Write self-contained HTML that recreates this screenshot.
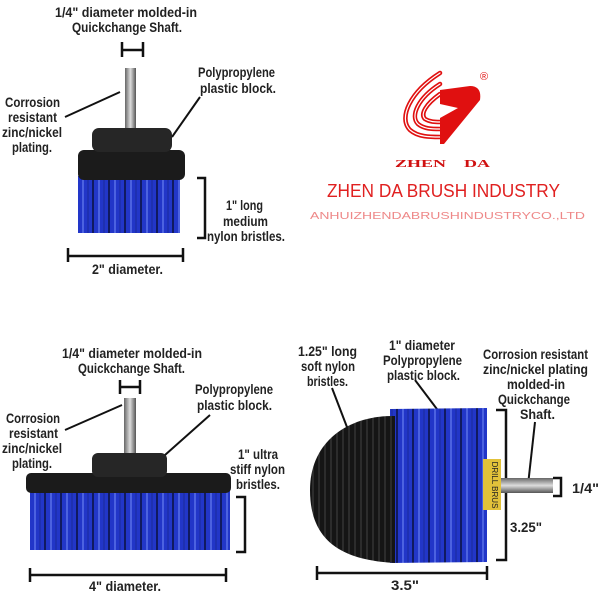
<!DOCTYPE html>
<html><head><meta charset="utf-8"><style>
html,body{margin:0;padding:0;background:#fff;}
svg{display:block}
.t{font-family:"Liberation Sans",sans-serif;font-size:14px;font-weight:bold;fill:#222;}
</style></head><body>
<svg width="600" height="600" viewBox="0 0 600 600" xmlns="http://www.w3.org/2000/svg">
<defs>
<linearGradient id="shaft" x1="0" x2="1"><stop offset="0" stop-color="#666"/><stop offset=".5" stop-color="#ddd"/><stop offset="1" stop-color="#555"/></linearGradient>
<linearGradient id="shaftH" x1="0" y1="0" x2="0" y2="1"><stop offset="0" stop-color="#666"/><stop offset=".5" stop-color="#ddd"/><stop offset="1" stop-color="#555"/></linearGradient>
<pattern id="blue" width="16" height="10" patternUnits="userSpaceOnUse"><rect width="16" height="10" fill="#2236c8"/><line x1="3" y1="0" x2="3" y2="10" stroke="#5a70e8" stroke-width="1.5"/><line x1="8" y1="0" x2="8" y2="10" stroke="#1a2a9a" stroke-width="1"/><line x1="13" y1="0" x2="13" y2="10" stroke="#101a60" stroke-width="2"/></pattern>
<pattern id="black" width="6" height="10" patternUnits="userSpaceOnUse"><rect width="6" height="10" fill="#151515"/><line x1="1" y1="0" x2="1" y2="10" stroke="#444" stroke-width="1"/></pattern>
</defs>
<g fill="none" stroke="#111" stroke-width="2.5">
<path d="M122 42v15M143 42v15M122 50h21"/>
<path d="M197 178h8v60h-8"/>
<path d="M68 248v14M183 248v14M68 256h115"/>
<path d="M120 380v14M140 380v14M120 387h20"/>
<path d="M236 497h9v55h-9"/>
<path d="M30 568v14M226 568v14M30 575h196"/>
<path d="M496 410h10v150h-10"/>
<path d="M553 478h8v18h-8"/>
<path d="M317 566v14M487 566v14M317 573h170"/>
</g>
<g stroke="#111" stroke-width="2" fill="none">
<line x1="65" y1="117" x2="120" y2="92"/>
<line x1="172" y1="137" x2="200" y2="97"/>
<line x1="65" y1="430" x2="122" y2="405"/>
<line x1="165" y1="455" x2="210" y2="415"/>
<line x1="332" y1="388" x2="355" y2="448"/>
<line x1="415" y1="380" x2="492" y2="482"/>
<line x1="535" y1="422" x2="528" y2="485"/>
</g>
<rect x="125" y="68" width="11" height="62" fill="url(#shaft)"/>
<rect x="78" y="176" width="102" height="57" fill="url(#blue)"/>
<rect x="78" y="150" width="107" height="30" rx="6" fill="#1b1b1b"/>
<rect x="92" y="128" width="80" height="24" rx="7" fill="#262626"/>
<rect x="124" y="398" width="12" height="58" fill="url(#shaft)"/>
<rect x="30" y="488" width="200" height="62" fill="url(#blue)"/>
<rect x="26" y="473" width="205" height="20" rx="5" fill="#1b1b1b"/>
<rect x="92" y="453" width="75" height="24" rx="6" fill="#262626"/>
<rect x="500" y="478" width="53" height="15" fill="url(#shaftH)"/>
<path d="M390 409 L487 408 L487 562 L390 563 Z" fill="url(#blue)"/>
<path d="M395 416 C350 415 310 440 310 490 C310 540 340 560 395 563 Z" fill="url(#black)"/>
<rect x="483" y="459" width="18" height="51" fill="#e2c23a"/>
<text x="492" y="485" transform="rotate(90 492 485)" text-anchor="middle" font-family="Liberation Sans" font-size="8" fill="#222">DRILL BRUS</text>
<g fill="none" stroke-linecap="round">
<path d="M440 73 C410 92 398 118 410 130 C418 137 430 137 440 137" stroke="#e01010" stroke-width="4.5"/>
<path d="M440 73 C410 92 398 118 410 130 C418 137 430 137 440 137" stroke="#fff" stroke-width="1.2"/>
<path d="M440 84 C418 98 410 116 418 124 C424 129 432 129 440 129" stroke="#e01010" stroke-width="4.5"/>
<path d="M440 84 C418 98 410 116 418 124 C424 129 432 129 440 129" stroke="#fff" stroke-width="1.2"/>
<path d="M440 94 C426 104 420 114 425 119 C430 122 435 122 440 122" stroke="#e01010" stroke-width="4.5"/>
<path d="M440 94 C426 104 420 114 425 119 C430 122 435 122 440 122" stroke="#fff" stroke-width="1.2"/>
</g>
<path d="M440 90 L470 86 Q482 86 480 100 L444 144 L440 144 L440 118 L458 108 L440 104 Z" fill="#e01010"/>
<text x="480" y="80" font-family="Liberation Sans" font-size="11" fill="#e01010">®</text>
<text x="395" y="167" font-family="Liberation Serif" font-weight="bold" font-size="10" fill="#d01010" textLength="95" lengthAdjust="spacingAndGlyphs">ZHEN&#160;&#160;&#160;&#160;DA</text>
<text x="327" y="197" font-family="Liberation Sans" font-size="18" fill="#e02020" textLength="233" lengthAdjust="spacingAndGlyphs">ZHEN DA BRUSH INDUSTRY</text>
<text x="310" y="219" font-family="Liberation Sans" font-size="10.5" fill="#e88" textLength="275" lengthAdjust="spacingAndGlyphs">ANHUIZHENDABRUSHINDUSTRYCO.,LTD</text>
<g class="t">
<text x="55" y="17" textLength="142" lengthAdjust="spacingAndGlyphs">1/4" diameter molded-in</text>
<text x="72" y="32" textLength="110" lengthAdjust="spacingAndGlyphs">Quickchange Shaft.</text>
<text x="198" y="77" textLength="77" lengthAdjust="spacingAndGlyphs">Polypropylene</text>
<text x="200" y="93" textLength="76" lengthAdjust="spacingAndGlyphs">plastic block.</text>
<text x="5" y="107" textLength="55" lengthAdjust="spacingAndGlyphs">Corrosion</text>
<text x="8" y="122" textLength="49" lengthAdjust="spacingAndGlyphs">resistant</text>
<text x="2" y="137" textLength="60" lengthAdjust="spacingAndGlyphs">zinc/nickel</text>
<text x="12" y="152" textLength="40" lengthAdjust="spacingAndGlyphs">plating.</text>
<text x="226" y="210" textLength="37" lengthAdjust="spacingAndGlyphs">1" long</text>
<text x="223" y="226" textLength="45" lengthAdjust="spacingAndGlyphs">medium</text>
<text x="207" y="241" textLength="78" lengthAdjust="spacingAndGlyphs">nylon bristles.</text>
<text x="92" y="274" textLength="71" lengthAdjust="spacingAndGlyphs">2" diameter.</text>
<text x="62" y="358" textLength="140" lengthAdjust="spacingAndGlyphs">1/4" diameter molded-in</text>
<text x="78" y="373" textLength="107" lengthAdjust="spacingAndGlyphs">Quickchange Shaft.</text>
<text x="195" y="394" textLength="78" lengthAdjust="spacingAndGlyphs">Polypropylene</text>
<text x="197" y="410" textLength="75" lengthAdjust="spacingAndGlyphs">plastic block.</text>
<text x="6" y="423" textLength="54" lengthAdjust="spacingAndGlyphs">Corrosion</text>
<text x="9" y="438" textLength="49" lengthAdjust="spacingAndGlyphs">resistant</text>
<text x="2" y="453" textLength="60" lengthAdjust="spacingAndGlyphs">zinc/nickel</text>
<text x="12" y="468" textLength="40" lengthAdjust="spacingAndGlyphs">plating.</text>
<text x="238" y="459" textLength="40" lengthAdjust="spacingAndGlyphs">1" ultra</text>
<text x="230" y="474" textLength="55" lengthAdjust="spacingAndGlyphs">stiff nylon</text>
<text x="236" y="489" textLength="44" lengthAdjust="spacingAndGlyphs">bristles.</text>
<text x="89" y="591" textLength="72" lengthAdjust="spacingAndGlyphs">4" diameter.</text>
<text x="298" y="356" textLength="59" lengthAdjust="spacingAndGlyphs">1.25" long</text>
<text x="301" y="371" textLength="54" lengthAdjust="spacingAndGlyphs">soft nylon</text>
<text x="307" y="386" textLength="41" lengthAdjust="spacingAndGlyphs">bristles.</text>
<text x="389" y="350" textLength="66" lengthAdjust="spacingAndGlyphs">1" diameter</text>
<text x="383" y="365" textLength="79" lengthAdjust="spacingAndGlyphs">Polypropylene</text>
<text x="387" y="380" textLength="73" lengthAdjust="spacingAndGlyphs">plastic block.</text>
<text x="483" y="359" textLength="105" lengthAdjust="spacingAndGlyphs">Corrosion resistant</text>
<text x="483" y="374" textLength="105" lengthAdjust="spacingAndGlyphs">zinc/nickel plating</text>
<text x="507" y="389" textLength="58" lengthAdjust="spacingAndGlyphs">molded-in</text>
<text x="498" y="404" textLength="72" lengthAdjust="spacingAndGlyphs">Quickchange</text>
<text x="520" y="419" textLength="35" lengthAdjust="spacingAndGlyphs">Shaft.</text>
<text x="510" y="532" textLength="32" lengthAdjust="spacingAndGlyphs">3.25"</text>
<text x="572" y="493" textLength="27" lengthAdjust="spacingAndGlyphs">1/4"</text>
<text x="391" y="590" textLength="28" lengthAdjust="spacingAndGlyphs">3.5"</text>
</g>
</svg>
</body></html>
